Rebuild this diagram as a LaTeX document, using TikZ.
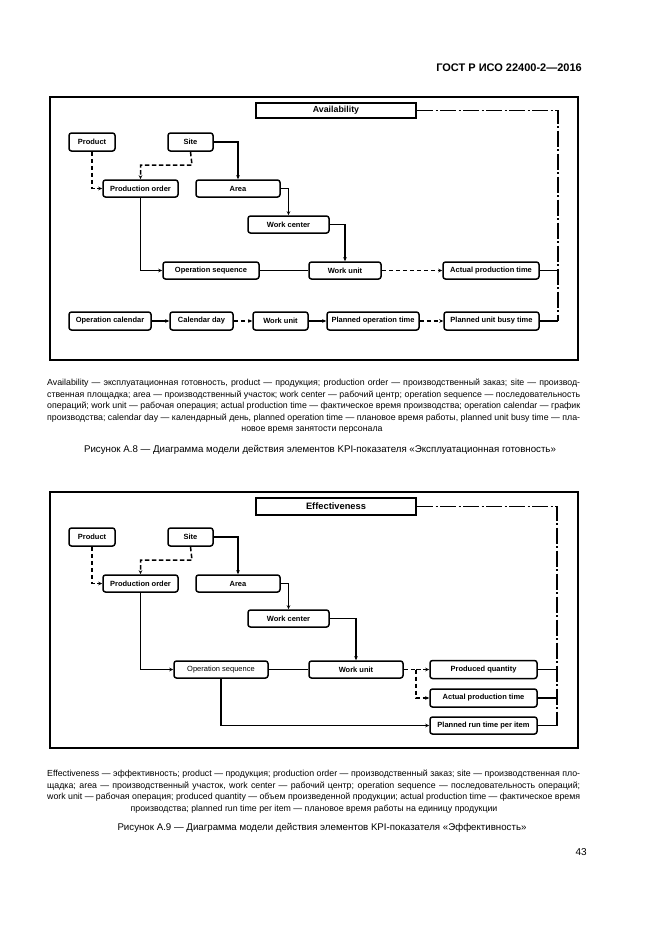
\documentclass[tikz,border=0pt]{standalone}
\usepackage{fontspec}
\setmainfont{Liberation Sans}
\usetikzlibrary{arrows.meta}
\begin{document}
\begin{tikzpicture}[x=1pt,y=-1pt,
  wh/.style 2 args={minimum width=#1, minimum height=#2},
  box/.style={draw, line width=1.5pt, rounded corners=2.5pt, font=\fontsize{7.5}{8}\selectfont\bfseries, inner sep=0pt, align=center},
  kpi/.style={draw, line width=2.2pt, font=\fontsize{8.8}{9}\selectfont\bfseries, inner sep=0pt},
  conn/.style={line width=1.5pt},
  arr/.style={conn, -{Stealth[length=4pt,width=3.5pt]}},
  dsh/.style={dash pattern=on 4.5pt off 2.5pt},
  dd/.style={line width=1.4pt, dash pattern=on 16pt off 2.5pt on 2pt off 2.5pt},
  frame/.style={line width=1.8pt},
  captxt/.style={font=\fontsize{8.8}{9}\selectfont, inner sep=0pt, anchor=base west},
  captxtc/.style={font=\fontsize{8.8}{9}\selectfont, inner sep=0pt, anchor=base},
  figtxt/.style={font=\fontsize{9.7}{11}\selectfont, inner sep=0pt, anchor=base}
]
\useasboundingbox[fill=white] (0,0) rectangle (661,935);

% header
\node[font=\fontsize{11}{12}\selectfont\bfseries, inner sep=0pt, anchor=base east] (hdr) at (582,71) {ГОСТ Р ИСО 22400-2—2016};

% ---------------- Figure A.8 ----------------
\draw[frame] (50,97) rectangle (578,360);
\node[kpi, wh={160pt}{15pt}] (avail) at (336,110.5) {Availability};
\node[box, wh={46pt}{18pt}] (prod1) at (92,142) {Product};
\node[box, wh={45pt}{18pt}] (site1) at (190.5,142) {Site};
\node[box, wh={75pt}{17pt}] (porder1) at (140.5,188.5) {Production order};
\node[box, wh={84pt}{17pt}] (area1) at (238,188.5) {Area};
\node[box, wh={81pt}{17pt}] (wc1) at (288.5,224.5) {Work center};
\node[box, wh={96pt}{17pt}] (opseq1) at (211,270.5) {Operation sequence};
\node[box, wh={72pt}{17pt}] (wu1) at (345,270.5) {Work unit};
\node[box, wh={96pt}{17pt}] (apt1) at (491,270.5) {Actual production time};
\node[box, wh={82pt}{18pt}] (opcal) at (110,321) {Operation calendar};
\node[box, wh={63pt}{18pt}] (calday) at (201.5,321) {Calendar day};
\node[box, wh={55pt}{18pt}] (wu1b) at (280.5,321) {Work unit};
\node[box, wh={92pt}{18pt}] (pot) at (373,321) {Planned operation time};
\node[box, wh={95pt}{18pt}] (pub) at (491.5,321) {Planned unit busy time};

\coordinate (r1t) at (558,110.5);
\coordinate (r1a) at (558,270.5);
\coordinate (r1b) at (558,321);
\coordinate (s1) at (192,165);

\draw[arr,dsh] (prod1.south) |- (porder1.west);
\draw[arr,dsh] (site1.south) -- (s1) -| (porder1.north);
\draw[arr] (site1.east) -| (area1.north);
\draw[arr] (area1.east) -| (wc1.north);
\draw[arr] (wc1.east) -| (wu1.north);
\draw[arr] (porder1.south) |- (opseq1.west);
\draw[conn] (opseq1.east) -- (wu1.west);
\draw[arr,dsh] (wu1.east) -- (apt1.west);
\draw[conn] (apt1.east) -- (r1a);
\draw[arr] (opcal.east) -- (calday.west);
\draw[arr,dsh] (calday.east) -- (wu1b.west);
\draw[arr] (wu1b.east) -- (pot.west);
\draw[arr,dsh] (pot.east) -- (pub.west);
\draw[conn] (pub.east) -- (r1b);
\draw[dd] (avail.east) -- (r1t) -- (r1b);

% caption A.8
\node[captxt] (a1) at (47,385.5) {\makebox[533pt][s]{Availability — эксплуатационная готовность, product — продукция; production order — производственный заказ; site — производ-}};
\node[captxt] (a2) at (47,397) {\makebox[533pt][s]{ственная площадка; area — производственный участок; work center — рабочий центр; operation sequence — последовательность}};
\node[captxt] (a3) at (47,408.5) {\makebox[533pt][s]{операций; work unit — рабочая операция; actual production time — фактическое время производства; operation calendar — график}};
\node[captxt] (a4) at (47,420) {\makebox[533pt][s]{производства; calendar day — календарный день, planned operation time — плановое время работы, planned unit busy time — пла-}};
\node[captxtc] (a5) at (312,431.5) {новое время занятости персонала};
\node[figtxt] (fa8) at (320,452) {Рисунок А.8 — Диаграмма модели действия элементов KPI-показателя «Эксплуатационная готовность»};

% ---------------- Figure A.9 ----------------
\draw[frame] (50,492) rectangle (578,748);
\node[kpi, wh={160pt}{17pt}, font=\fontsize{9.3}{10}\selectfont\bfseries] (eff) at (336,506.5) {Effectiveness};
\node[box, wh={46pt}{18pt}] (prod2) at (92,537) {Product};
\node[box, wh={45pt}{18pt}] (site2) at (190.5,537) {Site};
\node[box, wh={75pt}{17pt}] (porder2) at (140.5,583.5) {Production order};
\node[box, wh={84pt}{17pt}] (area2) at (238,583.5) {Area};
\node[box, wh={81pt}{17pt}] (wc2) at (288.5,618.5) {Work center};
\node[box, wh={94pt}{17pt}, font=\fontsize{7.5}{8}\selectfont] (opseq2) at (221,669.5) {Operation sequence};
\node[box, wh={94pt}{17pt}] (wu2) at (356,669.5) {Work unit};
\node[box, wh={107pt}{18pt}] (pq) at (483.5,669.5) {Produced quantity};
\node[box, wh={107pt}{18pt}] (apt2) at (483.5,698) {Actual production time};
\node[box, wh={107pt}{17pt}] (prt) at (483.5,725.5) {Planned run time per item};

\coordinate (r2t) at (557,506.5);
\coordinate (r2a) at (557,669.5);
\coordinate (r2b) at (557,698);
\coordinate (r2c) at (557,725.5);
\coordinate (s2) at (192,560);
\coordinate (sp) at (416,669.5);

\draw[arr,dsh] (prod2.south) |- (porder2.west);
\draw[arr,dsh] (site2.south) -- (s2) -| (porder2.north);
\draw[arr] (site2.east) -| (area2.north);
\draw[arr] (area2.east) -| (wc2.north);
\draw[arr] (wc2.east) -| (wu2.north);
\draw[arr] (porder2.south) |- (opseq2.west);
\draw[conn] (opseq2.east) -- (wu2.west);
\draw[arr] (opseq2.south) |- (prt.west);
\draw[conn,dsh] (wu2.east) -- (sp);
\draw[arr,dsh] (sp) -- (pq.west);
\draw[arr,dsh] (sp) |- (apt2.west);
\draw[conn] (pq.east) -- (r2a);
\draw[conn] (apt2.east) -- (r2b);
\draw[conn] (prt.east) -- (r2c);
\draw[dd] (eff.east) -- (r2t) -- (r2c);

% caption A.9
\node[captxt] (b1) at (47,776.5) {\makebox[533pt][s]{Effectiveness — эффективность; product — продукция; production order — производственный заказ; site — производственная пло-}};
\node[captxt] (b2) at (47,788) {\makebox[533pt][s]{щадка; area — производственный участок, work center — рабочий центр; operation sequence — последовательность операций;}};
\node[captxt] (b3) at (47,799.5) {\makebox[533pt][s]{work unit — рабочая операция; produced quantity — объем произведенной продукции; actual production time — фактическое время}};
\node[captxtc] (b4) at (314,811) {производства; planned run time per item — плановое время работы на единицу продукции};
\node[figtxt] (fa9) at (322,830.5) {Рисунок А.9 — Диаграмма модели действия элементов KPI-показателя «Эффективность»};

\node[font=\fontsize{10}{11}\selectfont, inner sep=0pt, anchor=base east] (pg) at (587,855) {43};
\end{tikzpicture}
\end{document}
